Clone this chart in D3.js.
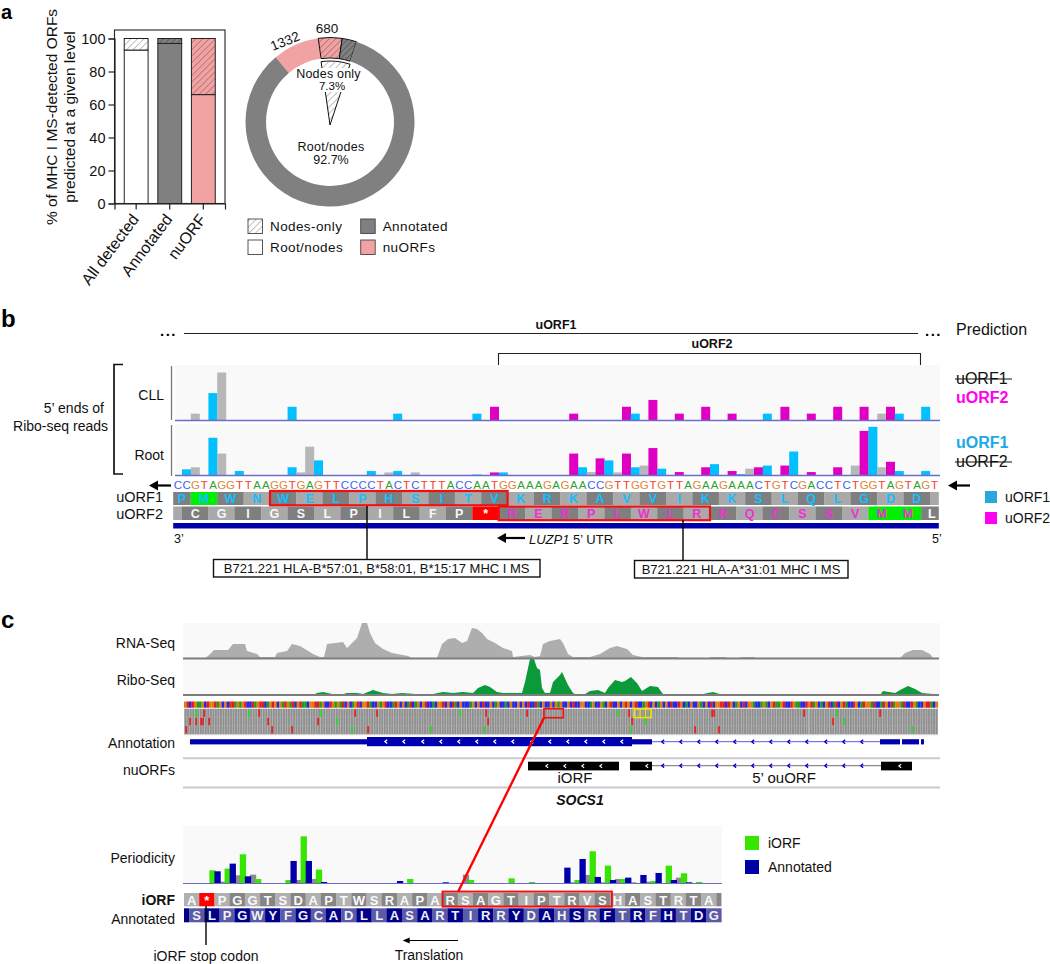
<!DOCTYPE html>
<html><head><meta charset="utf-8">
<script src="https://cdnjs.cloudflare.com/ajax/libs/d3/7.8.5/d3.min.js"></script>
<style>html,body{margin:0;padding:0;background:#fff}svg{display:block}text{font-family:"Liberation Sans",Arial,sans-serif}</style>
</head><body><svg id="c" width="1050" height="964"></svg>
<script>
// ---------- panel a data ----------
const barCats = ["All detected","Annotated","nuORF"];
const barRoot = [93,97,66];
const barNodes = [7,3,34];
const donutLabels = ["nuORF root","nuORF nodes","Annotated nodes","Annotated root"];
const donutValues = [1332,680,414,12560];
const yTicksA = [0,20,40,60,80,100];
// ---------- panel b data ----------
const seqB = "CCGTAGGTTAAGGTGAGTTCCCCTACTCTTTACCAATGGAAAGAGAACCGTTGGTGTTAGAAGAAACTGTCGACCTCTGGTAGTAGT";
const uorf1AA = "MWNWELPHSITVKRKAVVIKKSLQLGDD".split("");
const uorf2AA = "CGIGSLPILFP*RERPLWLRRQCSSVMM".split("");
// [base index, reads, frame] frame: 1 uORF1, 2 uORF2, 0 other
const cllIdx   = [2,4,5,13,25,34,36,45,51,52,54,57,60,63,67,69,72,75,78,80,81,82,85];
const cllReads = [1,4,7,2,1,1,2,1,2,1,3,1,2,1,1,2,1,2,2,1,2,1,2];
const cllFrame = [0,1,0,1,1,1,2,2,2,1,2,2,2,2,1,2,2,2,2,0,2,1,1];
const rootIdx   = [1,2,4,5,7,13,14,15,16,22,24,25,27,34,36,37,45,46,47,48,49,50,51,52,53,54,55,57,60,61,63,64,65,66,67,69,70,72,75,77,78,79,80,81,82,85];
const rootReads = [.9,1.2,5.5,3.2,.65,1.2,.45,4.2,2.2,.65,.45,.65,.45,.15,.45,.45,3.2,1.2,.5,2.5,2.2,.45,3.2,1.2,1.45,4,1,.5,1.2,1.65,.65,.2,1,1.2,1.45,1.45,3.5,.5,1.2,1.45,6.5,7.1,1.2,2,.65,.65];
const rootFrame = [1,0,1,0,1,1,0,0,1,1,0,1,0,1,2,1,2,1,0,2,1,0,2,1,0,2,1,2,2,1,2,1,0,2,1,2,1,2,2,0,2,1,0,2,1,1];
// ---------- panel c data ----------
const rnaPos = [0,22,25,31,45,50,62,64,74,77,92,94,104,109,117,130,137,141,144,160,164,174,179,184,187,192,200,209,225,229,254,259,265,272,279,284,289,294,299,304,312,320,329,330,347,352,357,360,367,377,380,385,390,407,417,427,434,444,450,459,479,494,497,526,528,543,544,556,558,571,573,717,722,730,739,747,750,755];
const rnaVal = [0,0,2,8,8,14,14,7,4,1,1,5,7,14,12,4,1,1,14,16,10,20,35,35,25,15,9,5,2,0,0,14,19,20,15,17,30,29,25,19,15,10,7,1,3,1,2,14,17,19,15,4,1,1,4,10,12,9,3,1,1,1,0,0,1,1,0,0,1,1,0,0,5,8,8,4,0,0];
const riboPos = [0,130,134,140,149,157,164,174,180,190,200,209,219,232,250,260,270,280,290,295,302,307,314,320,334,339,342,347,351,354,357,359,362,367,370,377,379,385,390,392,402,407,415,422,425,432,439,442,448,454,459,467,475,477,480,481,515,520,530,540,697,700,712,719,725,732,739,750,755];
const riboVal = [0,0,2,3,1,0,2,2,1,5,2,1,2,1,1,3,2,3,2,7,10,8,3,2,2,2,13,36,36,27,25,7,2,2,13,20,23,10,2,1,1,4,5,2,7,15,13,14,18,12,4,9,8,5,1,0,0,1,3,0,0,4,2,6,9,6,2,1,0];
const stripSeq = "GTCTGAAGCTGGTAGCGCTTAGAGTCCTAGTTCAGTGCGATGATCGTAACGGTTAGCCTGAGATCGCAGTCGGTACCGAGTCCATGCGCATCAGCGTCCACGGTCGCTACGCCCAGCGCTCCGCAGCCACGCCGCGCTCCTACGCCGCGAGCCGCTCCGGCCAGCCGACGTCCGCGTGCGTCCAGTCGCAGCGCTCCTGCACGCCGACGCTCGGTTCTGCAGCTCGGACCAGACGTAAGTCCTGAACCTGTAGCACGTCATCGTACCTGCATGGATCCATGCTAGGATCCTGACCGTTACG";
const mismatchPos = [13,21,66,76,138,172,194,277,303,344,435,446,529,531,621,654,697, 7,13,18,20,26,85,135,154,305,449,462,650,661, 3,89,109,169,185,248,301,448,512,536,729];
const mismatchRow = [0,0,0,0,0,0,0,0,0,0,0,0,0,0,0,0,0, 1,1,1,1,1,1,1,1,1,1,1,1,1, 2,2,2,2,2,2,2,2,2,2,2];
const mismatchAlt = ["G","R","G","R","G","R","R","G","R","R","G","R","R","R","R","G","R", "R","R","R","R","R","R","R","G","R","R","G","R","G", "R","R","R","G","R","G","G","G","R","R","G"];
const annotThin = [[7,184],[449,469],[697,717],[719,736],[738,741]];
const annotThick = [[184,449]];
const annotChevThick = [203,221,240,258,276,294,312,330,349,367,385,403,421,439];
const intronChev = [480,498,516,534,552,570,588,606,624,643,661,679];
const nuBoxes = [[345,436],[447,469],[698,729]];
const nuChev = [364,382,400,418,464,717];
const periodIdx   = [5,6,7,8,9,10,11,12,13,14,20,21,22,23,24,25,26,27,42,44,51,55,56,64,68,75,76,77,78,79,80,81,82,83,84,85,86,87,88,90,91,92,93,95,96,97,98,99,101];
const periodReads = [39,36,5,44,59,24,87,21,26,13,10,67,10,141,67,13,41,4,7,13,3,26,10,15,4,47,3,10,73,25,96,19,3,53,10,13,13,17,3,25,5,7,31,53,10,17,30,3,4];
const periodFrame = ["g","b","x","g","b","x","g","b","x","g","g","b","x","g","b","x","g","b","b","g","b","x","g","g","g","b","x","g","b","x","g","b","x","g","b","x","g","b","x","b","x","g","b","g","b","x","g","b","g"];
const iorfAA = "A*PGGTSDAPTWSRAPARSAGTIPTRVSHASTRTA".split("");
const annotAA = "SLPGWYFGCADLLASARTIRRYDAHSRFTRFHTDG".split("");

const FRAME = {0:"#b7b7b7",1:"#00c0ff",2:"#e000c4"};
const svg = d3.select("#c");
const defs = svg.append("defs");
function hatch(id,bg,line,sw,sp){
  const p = defs.append("pattern").attr("id",id).attr("patternUnits","userSpaceOnUse")
    .attr("width",sp).attr("height",sp).attr("patternTransform","rotate(45)");
  p.append("rect").attr("width",sp).attr("height",sp).attr("fill",bg);
  p.append("line").attr("x1",0).attr("x2",0).attr("y1",0).attr("y2",sp).attr("stroke",line).attr("stroke-width",sw);
}
hatch("hW","#fff","#666",.8,4.6);
hatch("hG","#808080","#333",.9,4.2);
hatch("hP","#f1a3a3","#7a4a4a",.9,4.6);
const st = defs.append("pattern").attr("id","reads").attr("patternUnits","userSpaceOnUse").attr("width",2.52).attr("height",30);
st.append("rect").attr("width",2.52).attr("height",30).attr("fill","#8f8f8f");
st.append("rect").attr("width",.7).attr("height",30).attr("fill","#bdbdbd");

function T(g,x,y,s,o={}){
  const el = g.append("text").attr("x",x).attr("y",y).attr("dy",".35em").text(s)
   .attr("font-size",o.size||14).attr("fill",o.fill||"#111").attr("text-anchor",o.anchor||"start");
  if(o.weight) el.attr("font-weight",o.weight);
  if(o.style) el.attr("font-style",o.style);
  if(o.rot!==undefined) el.attr("transform",`rotate(${o.rot},${x},${y})`);
  if(o.ls) el.attr("letter-spacing",o.ls);
  return el;
}
function L(g,x1,y1,x2,y2,c="#111",w=1.3){return g.append("line").attr("x1",x1).attr("y1",y1).attr("x2",x2).attr("y2",y2).attr("stroke",c).attr("stroke-width",w);}
function R(g,x,y,w,h,f,s,sw){const r=g.append("rect").attr("x",x).attr("y",y).attr("width",w).attr("height",h).attr("fill",f);if(s)r.attr("stroke",s).attr("stroke-width",sw||1);return r;}

T(svg,1,11.5,"a",{size:20,weight:"bold",fill:"#000"});
T(svg,1,319,"b",{size:24,weight:"bold",fill:"#000"});
T(svg,1,620,"c",{size:24,weight:"bold",fill:"#000"});

// ================= panel a ==================
const A = svg.append("g");
const xA = d3.scaleBand().domain(barCats).range([114.5,225]).padding(.29);
const yA = d3.scaleLinear().domain([0,100]).range([203.5,38.5]);
const colRoot = ["#fff","#808080","#f1a3a3"], colNode=["url(#hW)","url(#hG)","url(#hP)"];
R(A,114.5,30,110.5,173.5,"none","#222",1.1);
barCats.forEach((c,i)=>{
  R(A,xA(c),yA(barRoot[i]),xA.bandwidth(),yA(0)-yA(barRoot[i]),colRoot[i],"#222",1);
  R(A,xA(c),yA(100),xA.bandwidth(),yA(barRoot[i])-yA(100),colNode[i],"#222",1);
});
const ayA = A.append("g").attr("transform","translate(114.5,0)").call(d3.axisLeft(yA).tickValues(yTicksA).tickSize(6).tickPadding(3));
ayA.select(".domain").attr("stroke","#222").attr("stroke-width",1.2);
ayA.selectAll("line").attr("stroke","#222").attr("stroke-width",1.2);
ayA.selectAll("text").attr("font-size",14.5).attr("fill","#111").attr("font-family","Liberation Sans");
const axA = A.append("g").attr("transform","translate(0,203.5)").call(d3.axisBottom(xA).tickSize(6).tickFormat(""));
axA.select(".domain").attr("stroke","#222").attr("stroke-width",1.2);
axA.selectAll("line").attr("stroke","#222").attr("stroke-width",1.2);
barCats.forEach(c=>T(A,xA(c)+xA.bandwidth()/2-1,216,c,{size:16,anchor:"end",rot:-53}));
T(A,52,117,"% of MHC I MS-detected ORFs",{size:15.5,anchor:"middle",rot:-90});
T(A,70,117,"predicted at a given level",{size:15.5,anchor:"middle",rot:-90});

const cx=330, cy=122, deg=Math.PI/180;
const pie = d3.pie().sort(null).startAngle(-40*deg).endAngle(320*deg)(donutValues);
const arc = d3.arc().innerRadius(64).outerRadius(84.5);
const dG = A.append("g").attr("transform",`translate(${cx},${cy})`);
const dFill=["#f1a3a3","url(#hP)","url(#hG)","#808080"], dStroke=["none","#111","#111","none"];
dG.selectAll("path.s").data(pie).join("path").attr("class","s").attr("d",arc)
  .attr("fill",(d,i)=>dFill[i]).attr("stroke",(d,i)=>dStroke[i]).attr("stroke-width",1);
// inner nodes-only wedge
const wedge = d3.arc().innerRadius(0).outerRadius(64)({startAngle:pie[1].startAngle,endAngle:pie[2].endAngle});
dG.append("path").attr("d",wedge).attr("transform","translate(0,3)").attr("fill","url(#hW)").attr("stroke","#111").attr("stroke-width",1);
R(A,297,68,66,24,"#fff");
T(A,328.5,73.5,"Nodes only",{size:12.5,anchor:"middle",ls:".2"});
T(A,332,86,"7.3%",{size:11.5,anchor:"middle"});
T(A,331,147,"Root/nodes",{size:12.5,anchor:"middle",ls:".3"});
T(A,331,160,"92.7%",{size:12.5,anchor:"middle"});
T(A,285,41,donutValues[0],{size:13.5,anchor:"middle",rot:-22});
T(A,327,28,donutValues[1],{size:13.5,anchor:"middle"});
[[248,219,"url(#hW)","Nodes-only"],[248,240,"#fff","Root/nodes"],[360.7,219,"#808080","Annotated"],[360.7,240,"#f1a3a3","nuORFs"]].forEach(d=>{
  R(A,d[0],d[1],14.5,14.5,d[2],"#444",.9);
  T(A,d[0]+22,d[1]+7.5,d[3],{size:13.5,ls:".4"});
});

// ================= panel b ==================
const B = svg.append("g");
const xB = d3.scaleLinear().domain([0,87]).range([173.2,173.2+8.8*87]);
const yC = d3.scaleLinear().domain([0,7]).range([420.5,372.5]);
const yRt = d3.scaleLinear().domain([0,7]).range([475.5,427.5]);
// header
T(B,160,331,"...",{size:15,ls:"1.5",fill:"#000",weight:"bold"});
T(B,925,331,"...",{size:15,ls:"1.5",fill:"#000",weight:"bold"});
L(B,184,333.5,918,333.5,"#222",1.1);
T(B,556,325,"uORF1",{size:12.5,anchor:"middle",weight:"bold"});
B.append("path").attr("d","M498.5,365V353.5H920.5V365").attr("fill","none").attr("stroke","#222").attr("stroke-width",1.1);
T(B,712,344,"uORF2",{size:12.5,anchor:"middle",weight:"bold"});
T(B,956,329,"Prediction",{size:16});
// tracks
R(B,175,365,765,56,"#f9f9f9"); R(B,175,424,765,52,"#f9f9f9");
L(B,171.5,366,171.5,420,"#777",1.3); L(B,171.5,425,171.5,476,"#777",1.3);
function bars(idx,vals,fr,y){
  B.append("g").selectAll("rect").data(idx).join("rect")
   .attr("x",d=>xB(d)).attr("width",xB(1)-xB(0)+.2)
   .attr("y",(d,i)=>y(vals[i])).attr("height",(d,i)=>y(0)-y(vals[i]))
   .attr("fill",(d,i)=>FRAME[fr[i]]);
}
bars(cllIdx,cllReads,cllFrame,yC);
bars(rootIdx,rootReads,rootFrame,yRt);
L(B,175,420.5,940,420.5,"#6c6ccc",1.4); L(B,175,475.5,940,475.5,"#6c6ccc",1.4);
// bracket + labels
B.append("path").attr("d","M123,364.5H114V474H123").attr("fill","none").attr("stroke","#111").attr("stroke-width",1.7);
T(B,104,408,"5’ ends of",{size:14,anchor:"end"});
T(B,108,426,"Ribo-seq reads",{size:14,anchor:"end"});
T(B,164,395,"CLL",{size:14,anchor:"end"});
T(B,164,455,"Root",{size:14,anchor:"end"});
// sequence
const ntCol={A:"#2ea12e",C:"#3c63f0",G:"#e0863a",T:"#f2402a"};
B.append("g").selectAll("text").data(seqB.split("")).join("text")
 .attr("x",(d,i)=>xB(i)+4.6).attr("y",484.5).attr("dy",".35em").attr("text-anchor","middle")
 .attr("font-size",11.5).attr("fill",d=>ntCol[d]).text(d=>d);
function arrow(g,x1,x2,y,w=1.8,hl=8,hw=5){
  const dir = x2<x1?1:-1;
  L(g,x1,y,x2+dir*hl*.6,y,"#000",w);
  g.append("path").attr("d",`M${x2},${y}L${x2+dir*hl},${y-hw}L${x2+dir*hl},${y+hw}Z`).attr("fill","#000");
}
arrow(B,171,149,485.5,2.2,9,5); arrow(B,970,948,485.5,2.2,9,5);
// codon rows
function row(g,x,letters,start,y,h,opts){
  const gg=g.append("g");
  letters.forEach((a,i)=>{
    const b=start+3*i, dark=opts.dark(i);
    R(gg,x(b),y,x(b+3)-x(b)+.2,h,opts.fill(a,i,dark));
    T(gg,x(b+1.5),y+h/2+.3,a,{size:opts.size||12.5,anchor:"middle",fill:opts.text(a,i),weight:opts.weight});
  });
}
const DK="#7f7f7f", LT="#a9a9a9", GRN="#00ee00", RED="#ff0000", CY="#10c0ff", MG="#ee30d0";
R(B,xB(0),492,xB(2)-xB(0),13,DK); T(B,xB(1),498.8,"P",{size:12.5,anchor:"middle",fill:CY,weight:"bold"});
row(B,xB,uorf1AA,2,492,13,{dark:i=>i%2==1,fill:(a,i,dk)=>a=="M"?GRN:dk?DK:LT,text:()=>CY,weight:"bold"});
R(B,xB(86),492,xB(87)-xB(86),13,LT);
R(B,xB(0),506.5,xB(1)-xB(0),13.5,LT);
row(B,xB,uorf2AA,1,506.5,13.5,{dark:i=>i%2==0,fill:(a,i,dk)=>a=="*"?RED:a=="M"?GRN:dk?DK:LT,text:(a,i)=>i<12?"#f8f8f8":MG,weight:"bold"});
R(B,xB(85),506.5,xB(87)-xB(85),13.5,DK); T(B,xB(86.2),513.5,"L",{size:12.5,anchor:"middle",fill:"#fff",weight:"bold"});
R(B,xB(0),523,xB(87)-xB(0),5.5,"#0000a8");
R(B,xB(2+3*3),491,xB(2+3*12)-xB(2+3*3),14.3,"none","#f01010",2.2);
R(B,xB(1+3*12),506.5,xB(1+3*20)-xB(1+3*12),13.7,"none","#f01010",2.2);
T(B,163,497,"uORF1",{size:14.5,anchor:"end"});
T(B,163,514,"uORF2",{size:14.5,anchor:"end"});
T(B,174,539,"3’",{size:12.5});
T(B,932,539,"5’",{size:12.5});
arrow(B,525,497,538,2.2,9,5);
const ut=T(B,529,539,"",{size:13});
ut.append("tspan").attr("font-style","italic").text("LUZP1"); ut.append("tspan").text(" 5’ UTR");
L(B,367,506,367,559,"#000",1.4); L(B,683,520,683,560,"#000",1.4);
R(B,213.5,559.5,326.5,17.5,"#fff","#111",1.4);
R(B,634.5,560.5,213.5,17.5,"#fff","#111",1.4);
T(B,376.7,568.5,"B721.221 HLA-B*57:01, B*58:01, B*15:17 MHC I MS",{size:13,anchor:"middle"});
T(B,741,569.5,"B721.221 HLA-A*31:01 MHC I MS",{size:13,anchor:"middle"});
// right labels
function strike(y,s){const t=T(B,956,y,s,{size:16});L(B,955,y+1,1012,y+1,"#111",1.1);}
strike(378,"uORF1");
T(B,956,397,"uORF2",{size:16,fill:"#ff00ee",weight:"bold"});
T(B,956,442,"uORF1",{size:16,fill:"#1ba9e6",weight:"bold"});
strike(461,"uORF2");
R(B,985,491,12,12,"#29a8e0"); T(B,1005,497,"uORF1",{size:14});
R(B,985,512,12,12,"#ff00f0"); T(B,1005,518,"uORF2",{size:14});

// ================= panel c ==================
const C = svg.append("g");
const xG = d3.scaleLinear().domain([0,757]).range([183,940]);
R(C,183,623,757,36,"#f9f9f9"); R(C,183,660,757,36,"#f9f9f9");
const yRna = d3.scaleLinear().domain([0,36]).range([658,622]);
const yRib = d3.scaleLinear().domain([0,36]).range([695,659]);
C.append("path").datum(rnaPos).attr("fill","#aeaeae")
 .attr("d",d3.area().x(d=>xG(d)).y0(yRna(0)).y1((d,i)=>yRna(rnaVal[i])));
C.append("path").datum(riboPos).attr("fill","#0a9a3a")
 .attr("d",d3.area().x(d=>xG(d)).y0(yRib(0)).y1((d,i)=>yRib(riboVal[i])));
L(C,183,658.5,939,658.5,"#7d7d7d",1.8); L(C,183,695,939,695,"#7d7d7d",1.8);
T(C,175,643,"RNA-Seq",{size:14,anchor:"end"}); T(C,175,680,"Ribo-Seq",{size:14,anchor:"end"});
// nucleotide strip
const stripCol={A:"#1f9a1f",C:"#2626e6",G:"#e07c10",T:"#e01c1c"};
const baseW=(xG(755)-xG(1))/(stripSeq.length*1);
C.append("g").selectAll("rect").data(stripSeq.split("")).join("rect")
 .attr("x",(d,i)=>xG(1)+i*baseW).attr("width",baseW+.15).attr("y",701.5).attr("height",6.2)
 .attr("fill",d=>stripCol[d]);
R(C,xG(1),708.7,xG(755)-xG(1),25.3,"url(#reads)");
L(C,xG(1),717.3,xG(755),717.3,"#a8a8a8",.5); L(C,xG(1),725.7,xG(755),725.7,"#a8a8a8",.5);
R(C,xG(1),734,xG(755)-xG(1),1.2,"#d0d0d0");
C.append("g").selectAll("rect").data(mismatchPos).join("rect")
 .attr("x",d=>xG(d)-.7).attr("width",1.6).attr("y",(d,i)=>709.5+mismatchRow[i]*8.3).attr("height",7.4)
 .attr("fill",(d,i)=>mismatchAlt[i]=="G"?"#1fe01f":"#f01818");
R(C,xG(361),708.7,19.3,9,"none","#f01010",1.6);
R(C,xG(451.3),709,16.8,8.6,"none","#f2e400",1.5);
L(C,xG(457),709,xG(457),717.6,"#f2e400",1.1); L(C,xG(462.6),709,xG(462.6),717.6,"#f2e400",1.1);
// annotation
T(C,175,743,"Annotation",{size:14,anchor:"end"});
L(C,xG(469),741.7,xG(697),741.7,"#5a5ae0",1);
annotThin.forEach(d=>R(C,xG(d[0]),739.2,xG(d[1])-xG(d[0]),5.2,"#0000b0"));
annotThick.forEach(d=>R(C,xG(d[0]),737,xG(d[1])-xG(d[0]),9.2,"#0000b0"));
function chev(g,pos,y,col,sz,w){
  g.append("g").selectAll("path").data(pos).join("path")
   .attr("d",d=>`M${xG(d)+sz*.6},${y-sz}L${xG(d)-sz*.6},${y}L${xG(d)+sz*.6},${y+sz}`)
   .attr("fill","none").attr("stroke",col).attr("stroke-width",w);
}
chev(C,annotChevThick,741.6,"#fff",1.9,1.3);
chev(C,intronChev,741.7,"#0000d0",2,1.4);
L(C,183,758.3,940,758.3,"#c9c9d2",2); L(C,183,787.5,940,787.5,"#c9c9d2",2);
// nuORFs
T(C,175,770,"nuORFs",{size:14,anchor:"end"});
L(C,xG(469),765.7,xG(698),765.7,"#8a8a8a",1.3);
nuBoxes.forEach(d=>R(C,xG(d[0]),761.7,xG(d[1])-xG(d[0]),8.7,"#000"));
chev(C,nuChev,766,"#fff",1.9,1.2);
chev(C,intronChev,765.7,"#0000d0",1.9,1.4);
T(C,575,777.5,"iORF",{size:15,anchor:"middle"});
T(C,784,778,"5’ ouORF",{size:15,anchor:"middle"});
T(C,580,800,"SOCS1",{size:14,anchor:"middle",weight:"bold",style:"italic"});
// periodicity
const xP = d3.scaleLinear().domain([0,106]).range([184,184+106*5.07]);
const yP = d3.scaleLinear().domain([0,150]).range([883.3,833.3]);
R(C,183,826,539,58,"#f9f9f9");
const pCol={x:"#8c8c8c",g:"#37e600",b:"#0000a8"};
["x","g","b"].forEach(fr=>{
  const ii=periodIdx.map((d,i)=>i).filter(i=>periodFrame[i]==fr);
  C.append("g").selectAll("rect").data(ii).join("rect")
   .attr("x",i=>xP(periodIdx[i])).attr("width",6.3)
   .attr("y",i=>yP(periodReads[i])).attr("height",i=>yP(0)-yP(periodReads[i])).attr("fill",pCol[fr]);
});
L(C,183,883.5,722,883.5,"#6c6ccc",1);
T(C,175,858,"Periodicity",{size:14,anchor:"end"});
// iORF & annotated rows
const DK2="#858585", LT2="#b0b0b0", NV="#00008a", LB="#5a5aa6";
row(C,xP,iorfAA,0,893,13.3,{dark:i=>i%2==1,fill:(a,i,dk)=>a=="*"?RED:dk?DK2:LT2,text:()=>"#fafafa",size:13,weight:"bold"});
R(C,xP(105),893,xP(106)-xP(105),13.3,DK2);
R(C,xP(0),908.3,xP(1)-xP(0),14,NV);
row(C,xP,annotAA,1,908.3,14,{dark:i=>i%2==1,fill:(a,i,dk)=>dk?NV:LB,text:()=>"#f2f2f2",size:13,weight:"bold"});
R(C,xP(3*17),891.6,xP(3*28)-xP(3*17)+2,15,"none","#f01010",2);
T(C,175,900,"iORF",{size:14,anchor:"end",weight:"bold"});
T(C,175,919,"Annotated",{size:14,anchor:"end"});
L(C,206,906,206,945,"#000",1.4);
T(C,206,956,"iORF stop codon",{size:14,anchor:"middle"});
arrow(C,458,402.7,940.5,1,7,3);
T(C,429,955,"Translation",{size:14,anchor:"middle"});
L(C,544,717.7,458,892,"#ff0000",2.4);
R(C,745,836,14,14,"#37e600"); T(C,768,843.5,"iORF",{size:14});
R(C,745,860,14,14,"#0000a8"); T(C,768,867.5,"Annotated",{size:14});
</script></body></html>
